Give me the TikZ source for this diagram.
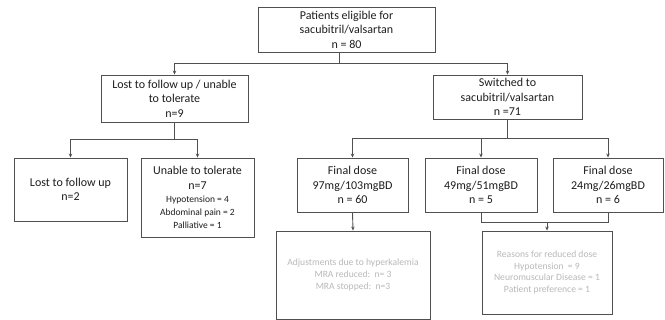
\documentclass[tikz,border=0pt]{standalone}
\usepackage{fontspec}
\setmainfont{Carlito}
\usetikzlibrary{arrows.meta}
\definecolor{linec}{RGB}{80,80,80}
\definecolor{txtc}{RGB}{30,30,30}
\definecolor{pale}{RGB}{185,185,185}
\tikzset{
  box/.style={draw=linec, line width=0.9pt, fill=white, align=center, inner sep=2pt, text=txtc,
    font=\fontsize{12}{14.6}\selectfont},
  palebox/.style={box, text=pale, font=\fontsize{9.6}{11.8}\selectfont},
  conn/.style={draw=linec, line width=0.9pt},
  arr/.style={conn, -{Stealth[length=4pt,width=3.5pt]}},
  small/.style={}
}
\newcommand{\smalltxt}{\fontsize{9.5}{11.5}\selectfont}
\begin{document}
\begin{tikzpicture}[x=1pt,y=-1pt]
\useasboundingbox (0,0) rectangle (665,320);
\node[box, minimum width=177pt, minimum height=45pt] (top) at (346.5,29.5)
  {Patients eligible for\\sacubitril/valsartan\\n = 80};
\node[box, minimum width=147pt, minimum height=47pt] (lost) at (174.5,98.5)
  {Lost to follow up / unable\\to tolerate\\n=9};
\node[box, minimum width=149pt, minimum height=44pt] (sw) at (507.5,97)
  {Switched to\\sacubitril/valsartan\\n =71};
\node[box, minimum width=113pt, minimum height=63pt] (ltfu) at (70.5,189.5)
  {Lost to follow up\\n=2};
\node[box, minimum width=113pt, minimum height=79pt] (unable) at (197.5,197.5)
  {Unable to tolerate\\n=7\\[-1pt]{\smalltxt Hypotension = 4}\\[-1.5pt]{\smalltxt Abdominal pain = 2}\\[-1.5pt]{\smalltxt Palliative = 1}};
\node[box, minimum width=111pt, minimum height=54pt] (fa) at (352.5,185)
  {Final dose\\97mg/103mgBD\\n = 60};
\node[box, minimum width=112pt, minimum height=54pt] (fb) at (481,185)
  {Final dose\\49mg/51mgBD\\n = 5};
\node[box, minimum width=110pt, minimum height=54pt] (fc) at (608,185)
  {Final dose\\24mg/26mgBD\\n = 6};
\node[palebox, minimum width=154pt, minimum height=88pt] (adj) at (353,275)
  {Adjustments due to hyperkalemia\\MRA reduced:\ \ n= 3\\MRA stopped:\ \ n=3};
\node[palebox, minimum width=130pt, minimum height=83pt] (rea) at (547,272.5)
  {Reasons for reduced dose\\Hypotension\ \ = 9\\Neuromuscular Disease = 1\\Patient preference = 1};
% connectors
\draw[conn] ([xshift=-7pt]top.south) -- ++(0,11) coordinate (j1);
\draw[arr] (j1) -| (lost.north);
\draw[arr] (j1) -| (sw.north);
\draw[conn] (lost.south) -- ++(0,17) coordinate (j2);
\draw[arr] (j2) -| (ltfu.north);
\draw[arr] (j2) -| (unable.north);
\draw[conn] (sw.south) -- ++(0,19) coordinate (j3);
\draw[arr] (j3) -| (fa.north);
\draw[arr] (j3) -| (fb.north);
\draw[arr] (j3) -| (fc.north);
\draw[arr] (fa.south) -- (adj.north);
\draw[conn] (fb.south) -- ++(0,10) coordinate (j4) -| (fc.south);
\draw[arr] (j4 -| rea.north) -- (rea.north);
\end{tikzpicture}
\end{document}
